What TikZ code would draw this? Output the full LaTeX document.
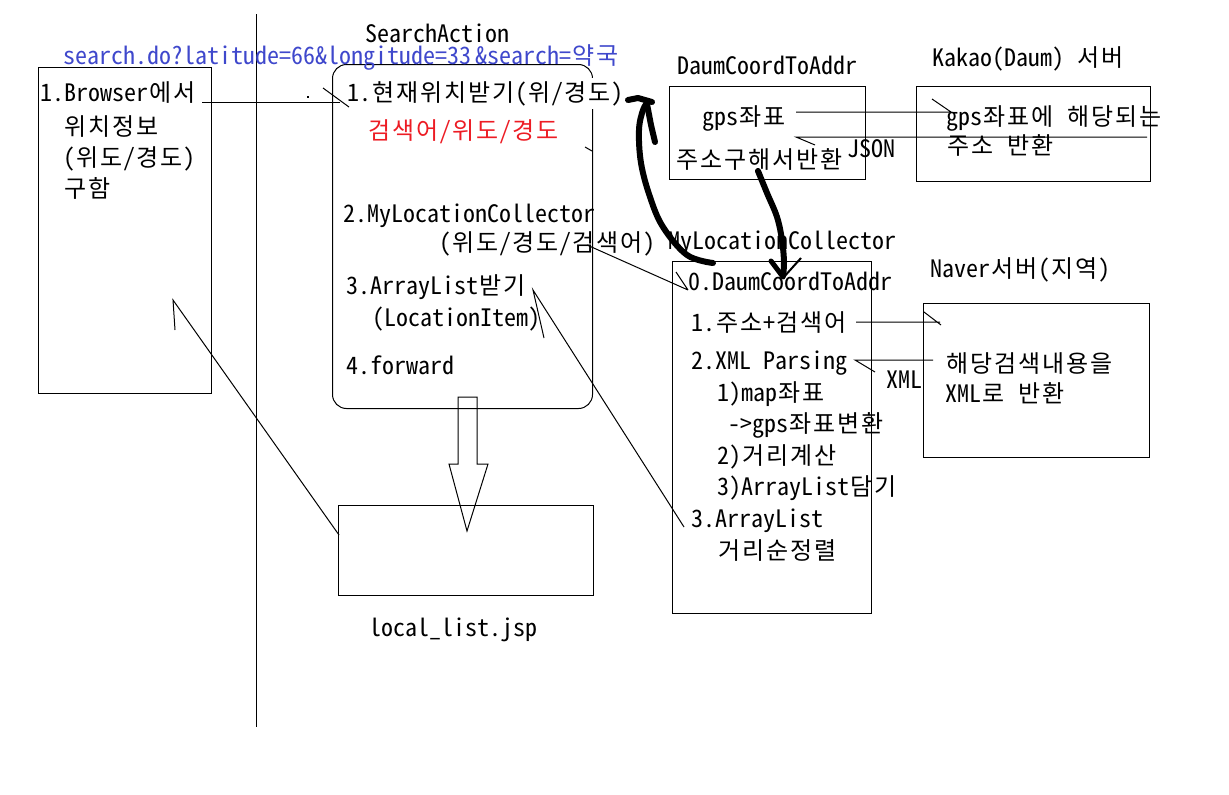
\documentclass[tikz,border=0pt]{standalone}
\usepackage{fontspec}
\font\khalf="Noto Sans CJK KR:+hwid" at 24pt
\fontdimen2\khalf=12pt \fontdimen3\khalf=0pt \fontdimen4\khalf=0pt
\newXeTeXintercharclass\hangulclass
\count255="AC00
\loop
  \XeTeXcharclass\count255=\hangulclass
  \ifnum\count255<"D7A3 \advance\count255 by 1
\repeat
\def\fixbox#1{\hbox to 24pt{\XeTeXinterchartokenstate=0 \hss#1\hss}}
\XeTeXinterchartoks 0 \hangulclass = {\fixbox}
\XeTeXinterchartoks 4095 \hangulclass = {\fixbox}
\definecolor{pblue}{RGB}{63,72,204}
\definecolor{pred}{RGB}{237,28,36}
\tikzset{
  lbl/.style={anchor=base west, inner sep=0pt, font=\khalf},
  box/.style={draw, line width=1pt, anchor=north west, inner sep=0pt},
  conn/.style={line width=1pt},
  hand/.style={line width=6pt, line cap=round, line join=round},
}
\begin{document}
\XeTeXinterchartokenstate=1
\begin{tikzpicture}[x=1pt,y=-1pt]
\useasboundingbox (0,0) rectangle (1229,795);
\fill[white] (0,0) rectangle (1229,795);

% divider
\coordinate (vtop) at (256,14);
\coordinate (vbot) at (256,727);
\draw[conn] (vtop) -- (vbot);

% boxes
\node[box, minimum width=173pt, minimum height=326pt] (browser) at (38,67) {};
\node[box, rounded corners=14pt, minimum width=260pt, minimum height=344pt] (search) at (332,64) {};
\node[box, minimum width=255pt, minimum height=90pt] (jsp) at (338,505) {};
\node[box, minimum width=196pt, minimum height=93pt] (daum) at (669,86) {};
\node[box, minimum width=234pt, minimum height=95pt] (kakao) at (916,86) {};
\node[box, minimum width=199pt, minimum height=352pt] (mlc) at (672,261) {};
\node[box, minimum width=226pt, minimum height=154pt] (naver) at (923,303) {};

% block arrow search -> jsp
\draw[conn] (458,397) -- (477,397) -- (477,464) -- (488,464) -- (467,531) -- (449,464) -- (458,464) -- cycle;

% texts
\node[lbl] (tSA) at (365,42) {SearchAction};
\node[lbl, text=pblue] (turl) at (63,64) {search.do?latitude=66\&longitude=33\hspace{4pt}\&search=약국};
\node[lbl] (tb1) at (40,101) {1.Browser에서};
\node[lbl] (tb2) at (63,135) {위치정보};
\node[lbl] (tb3) at (63,166) {(위도/경도)};
\node[lbl] (tb4) at (63,197) {구함};
\node[lbl, fill=white, inner ysep=3pt] (ts1) at (347,101) {1.현재위치받기(위/경도)};
\node[lbl, text=pred] (ts1b) at (367,139) {검색어/위도/경도};
\node[lbl] (ts2) at (343,222) {2.MyLocationCollector};
\node[lbl] (ts2b) at (439,251) {(위도/경도/검색어)};
\node[lbl] (ts3) at (346,294) {3.ArrayList받기};
\node[lbl] (ts3b) at (372,326) {(LocationItem)};
\node[lbl] (ts4) at (346,374) {4.forward};
\node[lbl] (tjsp) at (369,636) {local\_list.jsp};
\node[lbl] (tdaum) at (677,74) {DaumCoordToAddr};
\node[lbl] (td1) at (702,125) {gps좌표};
\node[lbl] (td2) at (675,168) {주소구해서반환};
\node[lbl] (tjson) at (847,157) {JSON};
\node[lbl] (tkakao) at (932,66) {Kakao(Daum) 서버};
\node[lbl] (tk1) at (946,125) {gps좌표에 해당되는};
\node[lbl] (tk2) at (946,154) {주소 반환};
\node[lbl] (tmlc) at (668,249) {MyLocationCollector};
\node[lbl] (tm0) at (688,290) {0.DaumCoordToAddr};
\node[lbl] (tm1) at (691,331) {1.주소+검색어};
\node[lbl] (tm2) at (691,369) {2.XML Parsing};
\node[lbl] (tm21) at (717,401) {1)map좌표};
\node[lbl] (tm22) at (728,432) {->gps좌표변환};
\node[lbl] (tm23) at (717,464) {2)거리계산};
\node[lbl] (tm24) at (717,495) {3)ArrayList담기};
\node[lbl] (tm3) at (691,527) {3.ArrayList};
\node[lbl] (tm3b) at (717,559) {거리순정렬};
\node[lbl] (txml) at (886,388) {XML};
\node[lbl] (tnaver) at (930,277) {Naver서버(지역)};
\node[lbl] (tn1) at (945,372) {해당검색내용을};
\node[lbl] (tn2) at (945,402) {XML로 반환};

% thin connectors with hand-drawn ticks
\coordinate (c1a) at (202,102); \coordinate (c1b) at (340,102);
\coordinate (c1t1) at (323,88); \coordinate (c1t2) at (349,107);
\draw[conn] (c1a) -- (c1b);
\draw[conn] (c1t1) -- (c1t2);
\fill (306.5,95.5) rectangle (308.5,97.5);

\coordinate (c2a) at (587,245); \coordinate (c2b) at (688,290); \coordinate (c2t) at (676,272);
\draw[conn] (c2a) -- (c2b) (c2t) -- (c2b);

\coordinate (c3a) at (684,527); \coordinate (c3b) at (533,290); \coordinate (c3t) at (544,338);
\draw[conn] (c3a) -- (c3b) -- (c3t);

\coordinate (c4a) at (339,535); \coordinate (c4b) at (173,300); \coordinate (c4t) at (175,330);
\draw[conn] (c4a) -- (c4b) -- (c4t);

\coordinate (c5a) at (796,112); \coordinate (c5b) at (951,112); \coordinate (c5t) at (932,99);
\draw[conn] (c5a) -- (c5b) (c5t) -- (c5b);

\coordinate (c6a) at (1147,137); \coordinate (c6b) at (796,137); \coordinate (c6t) at (815,145);
\draw[conn] (c6a) -- (c6b) -- (c6t);

\coordinate (c7a) at (856,322); \coordinate (c7b) at (940,322); \coordinate (c7t) at (924,312);
\draw[conn] (c7a) -- (c7b) (c7t) -- (941,325);

\coordinate (c8a) at (933,360); \coordinate (c8b) at (855,360); \coordinate (c8t) at (875,372);
\draw[conn] (c8a) -- (c8b) -- (c8t);

\draw[conn] (585,147) -- (592,151);

% thick hand-drawn curves
\draw[hand] plot[smooth, tension=0.6] coordinates {(713,263) (687,255) (663,227) (650,197) (641,163) (639,130) (643,110) (648,102)};
\draw[hand] (628,100) -- (638,98) -- (652,102);
\draw[hand] (647,104) -- (651,125) -- (655,142);

\draw[hand] plot[smooth, tension=0.6] coordinates {(758,171) (767,193) (777,217) (782,240) (784,262) (783,276)};
\draw[hand, line width=5pt] (771,261) -- (783,277);
\draw[line width=2pt] (801,258) -- (783,278);
\end{tikzpicture}
\end{document}
